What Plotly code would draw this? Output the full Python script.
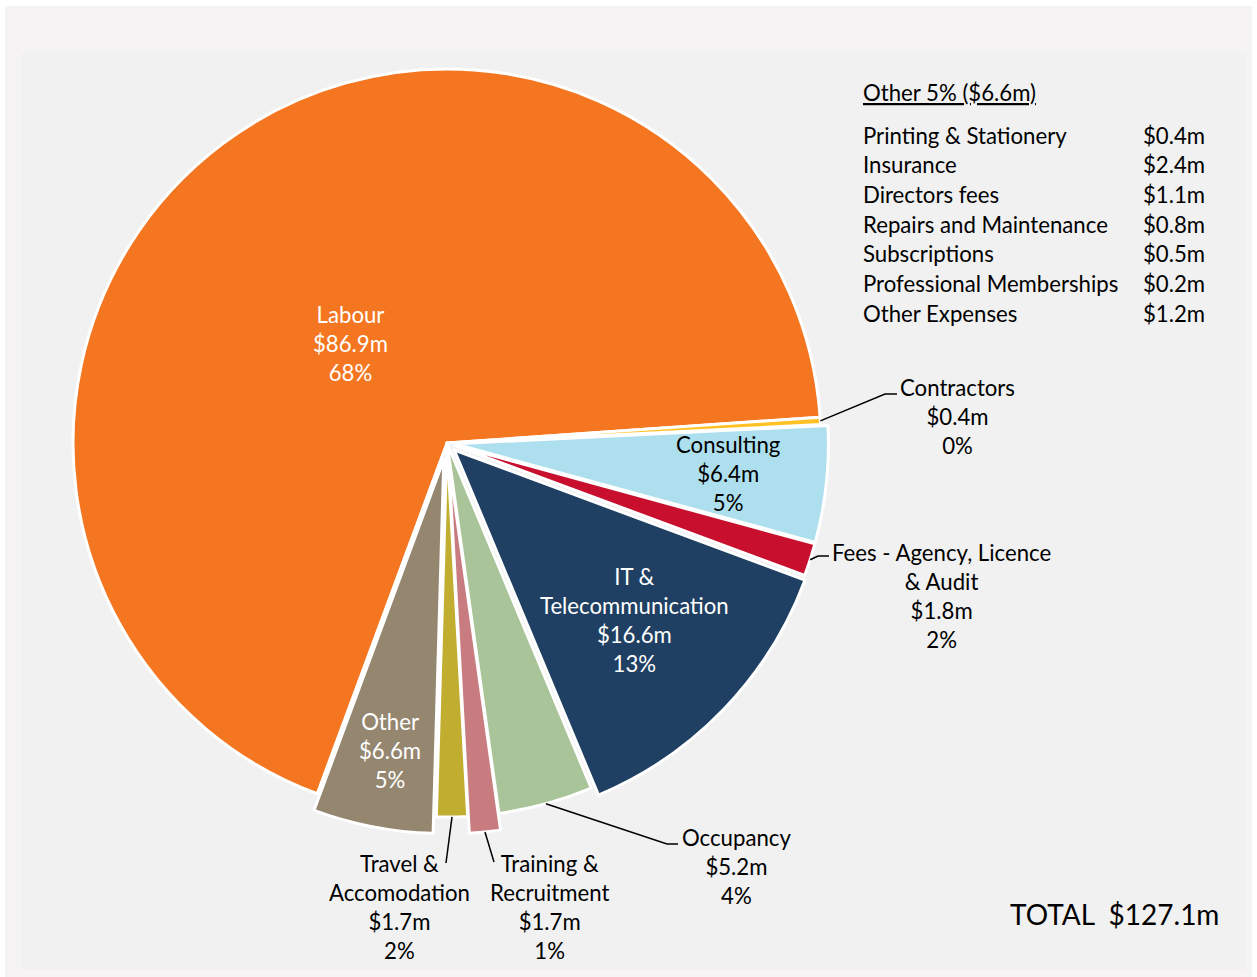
import math
import plotly.graph_objects as go

# ---------------- data ----------------
categories = ["Labour", "Contractors", "Consulting", "Fees - Agency, Licence & Audit",
              "IT & Telecommunication", "Occupancy", "Training & Recruitment",
              "Travel & Accomodation", "Other"]
label_names = ["Labour", "Contractors", "Consulting", "Fees - Agency, Licence<br>& Audit",
               "IT &<br>Telecommunication", "Occupancy", "Training &<br>Recruitment",
               "Travel &<br>Accomodation", "Other"]
values = [86.9, 0.4, 6.4, 1.8, 16.6, 5.2, 1.7, 1.7, 6.6]
pct_labels = ["68%", "0%", "5%", "2%", "13%", "4%", "1%", "2%", "5%"]

other_items = ["Printing & Stationery", "Insurance", "Directors fees", "Repairs and Maintenance",
               "Subscriptions", "Professional Memberships", "Other Expenses"]
other_values = [0.4, 2.4, 1.1, 0.8, 0.5, 0.2, 1.2]
other_header = "Other 5% ($6.6m)"
total_value = 127.1

# ---------------- style / layout ----------------
W, H = 1257, 977
FONT = "Lato"
FS = 22.2
colors = ["#F47621", "#FFC124", "#ADDFEE", "#C8102E", "#1F4062",
          "#A9C499", "#C97C80", "#C1AD2F", "#958670"]
pulls = [0, 0, 0.02, 0.02, 0.027, 0, 0.045, 0, 0.045]
text_colors = ["white", "black", "black", "black", "white", "black", "black", "black", "white"]
# label block centres (pixels)
label_pos = [(350, 343), (958, 416), (728, 473), (941, 596), (634, 620),
             (736, 866), (549, 907), (399, 907), (390, 750)]
# leader lines: list of extra points after slice anchor (pixels), None = no line
leaders = [None, [(885, 394), (897, 394)], None, [(818, 556), (829, 556)], None,
           [(667, 844), (678, 844)], [(494, 862)], [(446, 863)], None]

CX, CY, R = 447, 443, 374
ROT = 200.3
maxpull = max(pulls)
half = R * (1 + maxpull)


def px(x):
    return x / W


def py(y):
    return 1 - y / H


fig = go.Figure()
fig.add_trace(go.Pie(
    labels=categories,
    values=values,
    sort=False,
    direction="clockwise",
    rotation=ROT,
    pull=pulls,
    marker=dict(colors=colors, line=dict(color="white", width=3)),
    textinfo="none",
    hovertemplate="%{label}<br>$%{value}m<extra></extra>",
    domain=dict(x=[px(CX - half), px(CX + half)], y=[py(CY + half), py(CY - half)]),
    showlegend=False,
))

shapes = [
    dict(type="rect", xref="paper", yref="paper", x0=px(5), x1=px(1252), y0=py(977), y1=py(6),
         fillcolor="#F5F3F4", line=dict(width=0), layer="below"),
    dict(type="rect", xref="paper", yref="paper", x0=px(21), x1=px(1246), y0=py(970), y1=py(53),
         fillcolor="#F1F1F1", line=dict(width=0), layer="below"),
]

annotations = []
total_v = sum(values)
cum = 0
for i, v in enumerate(values):
    frac_mid = (cum + v / 2) / total_v
    cum += v
    ang = math.radians(ROT + frac_mid * 360)
    lx, ly = label_pos[i]
    annotations.append(dict(
        xref="paper", yref="paper", x=px(lx), y=py(ly), xanchor="center", yanchor="middle",
        text=f"{label_names[i]}<br>${v}m<br>{pct_labels[i]}", showarrow=False, align="center",
        font=dict(family=FONT, size=FS, color=text_colors[i]),
    ))
    if leaders[i]:
        rr = R * (1 + pulls[i])
        ax = CX + rr * math.sin(ang)
        ay = CY - rr * math.cos(ang)
        pts = [(ax, ay)] + leaders[i]
        path = "M " + " L ".join(f"{px(x):.5f},{py(y):.5f}" for x, y in pts)
        shapes.append(dict(type="path", xref="paper", yref="paper", path=path,
                           line=dict(color="black", width=1.5)))

# Other breakdown table
annotations.append(dict(xref="paper", yref="paper", x=px(861), y=py(92), xanchor="left", yanchor="middle",
                        text=f"<u>{other_header}</u>", showarrow=False,
                        font=dict(family=FONT, size=FS, color="black")))
for j, (name, val) in enumerate(zip(other_items, other_values)):
    yy = 135 + j * 29.7
    annotations.append(dict(xref="paper", yref="paper", x=px(861), y=py(yy), xanchor="left", yanchor="middle",
                            text=name, showarrow=False, font=dict(family=FONT, size=FS, color="black")))
    annotations.append(dict(xref="paper", yref="paper", x=px(1207), y=py(yy), xanchor="right", yanchor="middle",
                            text=f"${val}m", showarrow=False, font=dict(family=FONT, size=FS, color="black")))

annotations.append(dict(xref="paper", yref="paper", x=px(1221), y=py(914), xanchor="right", yanchor="middle",
                        text=f"TOTAL  ${total_value}m", showarrow=False,
                        font=dict(family=FONT, size=28, color="black")))

fig.update_layout(
    width=W, height=H, margin=dict(l=0, r=0, t=0, b=0),
    paper_bgcolor="white", plot_bgcolor="white",
    shapes=shapes, annotations=annotations,
)
fig.write_html("out.html")
